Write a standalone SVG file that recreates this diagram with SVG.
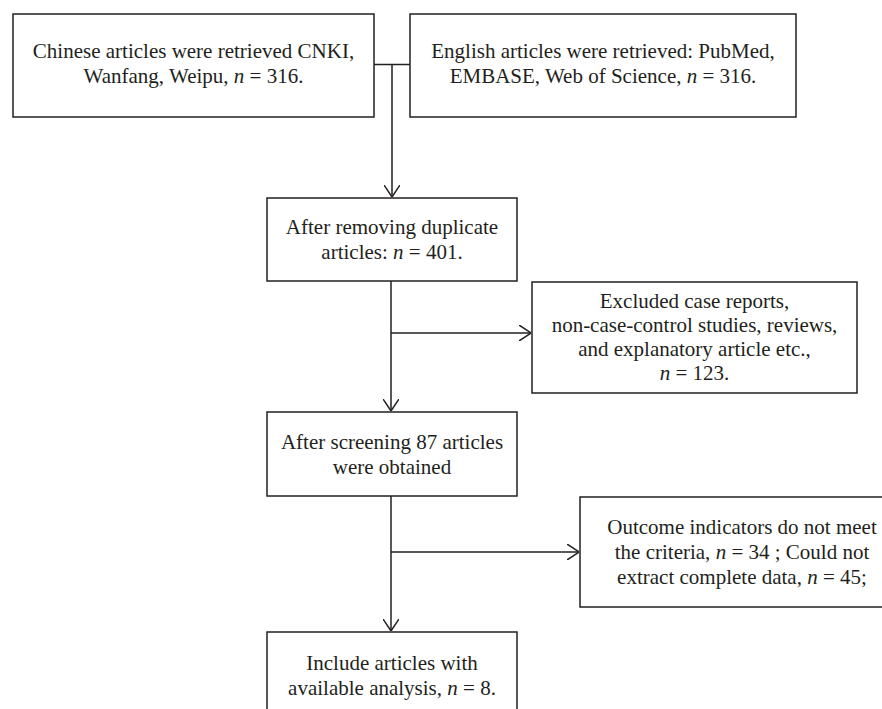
<svg xmlns="http://www.w3.org/2000/svg" width="882" height="709" viewBox="0 0 882 709">
<style>
.box{fill:#fff;stroke:#231f20;stroke-width:1.5}
.t{font-family:"Liberation Serif","Times New Roman",serif;font-size:21px;fill:#231f20;text-anchor:middle}
.c{fill:none;stroke:#231f20;stroke-width:1.5}
.ah{fill:none;stroke:#231f20;stroke-width:1.5}
</style>
<defs>
<marker id="arr" viewBox="0 0 12 16" refX="12" refY="8" markerWidth="12" markerHeight="16" markerUnits="userSpaceOnUse" orient="auto">
<path d="M0,0 L12,8 L0,16" class="ah"/>
</marker>
</defs>
<rect width="882" height="709" fill="#fff"/>
<g id="connectors">
<path class="c" d="M374,64.5 H410"/>
<path class="c" d="M392,64.5 V197" marker-end="url(#arr)"/>
<path class="c" d="M391,281 V411" marker-end="url(#arr)"/>
<path class="c" d="M391,333 H531" marker-end="url(#arr)"/>
<path class="c" d="M391,496 V631" marker-end="url(#arr)"/>
<path class="c" d="M391,552 H579" marker-end="url(#arr)"/>
</g>
<g id="n1">
<rect class="box" x="13" y="14" width="361" height="103"/>
<text class="t" x="193.5" y="58">Chinese articles were retrieved CNKI,</text>
<text class="t" x="193.5" y="83">Wanfang, Weipu, <tspan font-style="italic">n</tspan> = 316.</text>
</g>
<g id="n2">
<rect class="box" x="410" y="14" width="386" height="103"/>
<text class="t" x="603" y="58">English articles were retrieved: PubMed,</text>
<text class="t" x="603" y="83">EMBASE, Web of Science, <tspan font-style="italic">n</tspan> = 316.</text>
</g>
<g id="n3">
<rect class="box" x="267" y="198" width="250" height="83"/>
<text class="t" x="392" y="234">After removing duplicate</text>
<text class="t" x="392" y="259">articles: <tspan font-style="italic">n</tspan> = 401.</text>
</g>
<g id="n4">
<rect class="box" x="532" y="282" width="325" height="111"/>
<text class="t" x="694.5" y="308">Excluded case reports,</text>
<text class="t" x="694.5" y="332">non-case-control studies, reviews,</text>
<text class="t" x="694.5" y="356">and explanatory article etc.,</text>
<text class="t" x="694.5" y="380"><tspan font-style="italic">n</tspan> = 123.</text>
</g>
<g id="n5">
<rect class="box" x="267" y="412" width="250" height="84"/>
<text class="t" x="392" y="449">After screening 87 articles</text>
<text class="t" x="392" y="474">were obtained</text>
</g>
<g id="n6">
<rect class="box" x="580" y="497" width="324" height="110"/>
<text class="t" x="742" y="534">Outcome indicators do not meet</text>
<text class="t" x="742" y="559">the criteria, <tspan font-style="italic">n</tspan> = 34 ; Could not</text>
<text class="t" x="742" y="584">extract complete data, <tspan font-style="italic">n</tspan> = 45;</text>
</g>
<g id="n7">
<rect class="box" x="267" y="632" width="250" height="90"/>
<text class="t" x="392" y="670">Include articles with</text>
<text class="t" x="392" y="695">available analysis, <tspan font-style="italic">n</tspan> = 8.</text>
</g>
</svg>
